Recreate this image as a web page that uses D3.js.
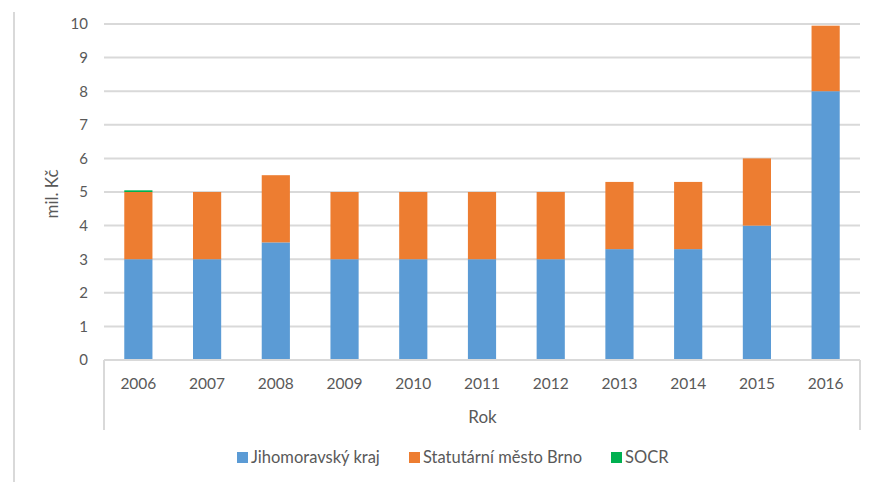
<!DOCTYPE html>
<html>
<head>
<meta charset="utf-8">
<script src="https://cdn.jsdelivr.net/npm/d3@7/dist/d3.min.js"></script>
<style>
  body { margin: 0; background: #fff; }
  text { font-family: Lato, "Open Sans", sans-serif; fill: #595959; }
</style>
</head>
<body>
<div id="chart"></div>
<script>
// chart data
var years = ["2006", "2007", "2008", "2009", "2010", "2011", "2012", "2013", "2014", "2015", "2016"];
var jihomoravsky = [3, 3, 3.5, 3, 3, 3, 3, 3.3, 3.3, 4, 8];
var brno = [2, 2, 2, 2, 2, 2, 2, 2, 2, 2, 1.95];
var socr = [0.05, 0, 0, 0, 0, 0, 0, 0, 0, 0, 0];
var yTicks = [0, 1, 2, 3, 4, 5, 6, 7, 8, 9, 10];

var seriesNames = ["Jihomoravský kraj", "Statutární město Brno", "SOCR"];
var colors = ["#5b9bd5", "#ed7d31", "#00b050"];

var svgWidth = 874;
var svgHeight = 482;

var margin = { top: 24, right: 14, bottom: 122, left: 104 };
var width = svgWidth - margin.left - margin.right;
var height = svgHeight - margin.top - margin.bottom;

var svg = d3.select("#chart")
  .append("svg")
  .attr("width", svgWidth)
  .attr("height", svgHeight);

// left border of the chart area
svg.append("line")
  .attr("x1", 14).attr("x2", 14)
  .attr("y1", 12).attr("y2", svgHeight)
  .attr("stroke", "#d9d9d9")
  .attr("stroke-width", 2);

var chartGroup = svg.append("g")
  .attr("transform", `translate(${margin.left}, ${margin.top})`);

// build table for stacking
var table = years.map(function(y, i) {
  return { year: y, j: jihomoravsky[i], b: brno[i], s: socr[i] };
});
var stack = d3.stack().keys(["j", "b", "s"]);
var stacked = stack(table);

var xScale = d3.scaleBand()
  .domain(years)
  .range([0, width])
  .paddingInner(0.59)
  .paddingOuter(0.295);

var yScale = d3.scaleLinear()
  .domain([0, 10])
  .range([height, 0]);

// gridlines
chartGroup.append("g")
  .selectAll("line")
  .data(yTicks.slice(1))
  .enter()
  .append("line")
  .attr("x1", 0)
  .attr("x2", width)
  .attr("y1", d => yScale(d))
  .attr("y2", d => yScale(d))
  .attr("stroke", "#d9d9d9")
  .attr("stroke-width", 2);

// y axis labels
var leftAxis = d3.axisLeft(yScale).tickValues(yTicks).tickSize(0).tickPadding(16);
chartGroup.append("g")
  .call(leftAxis)
  .call(g => g.select(".domain").remove())
  .selectAll("text")
  .style("font-size", "15px")
  .attr("fill", "#595959");

// bars
chartGroup.selectAll(".layer")
  .data(stacked)
  .enter()
  .append("g")
  .attr("class", "layer")
  .attr("fill", (d, i) => colors[i])
  .selectAll("rect")
  .data(d => d)
  .enter()
  .append("rect")
  .attr("x", d => xScale(d.data.year))
  .attr("y", d => yScale(d[1]))
  .attr("width", xScale.bandwidth())
  .attr("height", d => yScale(d[0]) - yScale(d[1]));

// x axis: baseline plus outer dividers (category axis style)
chartGroup.append("line")
  .attr("x1", 0).attr("x2", width)
  .attr("y1", height).attr("y2", height)
  .attr("stroke", "#d9d9d9")
  .attr("stroke-width", 2);

chartGroup.selectAll(".xdiv")
  .data([0, width])
  .enter()
  .append("line")
  .attr("class", "xdiv")
  .attr("x1", d => d).attr("x2", d => d)
  .attr("y1", height).attr("y2", height + 70)
  .attr("stroke", "#d9d9d9")
  .attr("stroke-width", 2);

chartGroup.selectAll(".xlabel")
  .data(years)
  .enter()
  .append("text")
  .attr("class", "xlabel")
  .attr("x", d => xScale(d) + xScale.bandwidth() / 2)
  .attr("y", height + 29)
  .attr("text-anchor", "middle")
  .style("font-size", "15.5px")
  .text(d => d);

// axis titles
chartGroup.append("text")
  .attr("x", width / 2 + 0.5)
  .attr("y", height + 63)
  .attr("text-anchor", "middle")
  .style("font-size", "17px")
  .text("Rok");

svg.append("text")
  .attr("transform", "translate(58, 194) rotate(-90)")
  .attr("text-anchor", "middle")
  .style("font-size", "17px")
  .text("mil. Kč");

// legend
var legendX = [237, 409, 611];
var legend = svg.selectAll(".legend")
  .data(seriesNames)
  .enter()
  .append("g")
  .attr("class", "legend")
  .attr("transform", (d, i) => `translate(${legendX[i]}, 452)`);

legend.append("rect")
  .attr("width", 11)
  .attr("height", 11)
  .attr("fill", (d, i) => colors[i]);

legend.append("text")
  .attr("x", 14)
  .attr("y", 11)
  .style("font-size", "16.5px")
  .text(d => d);
</script>
</body>
</html>
